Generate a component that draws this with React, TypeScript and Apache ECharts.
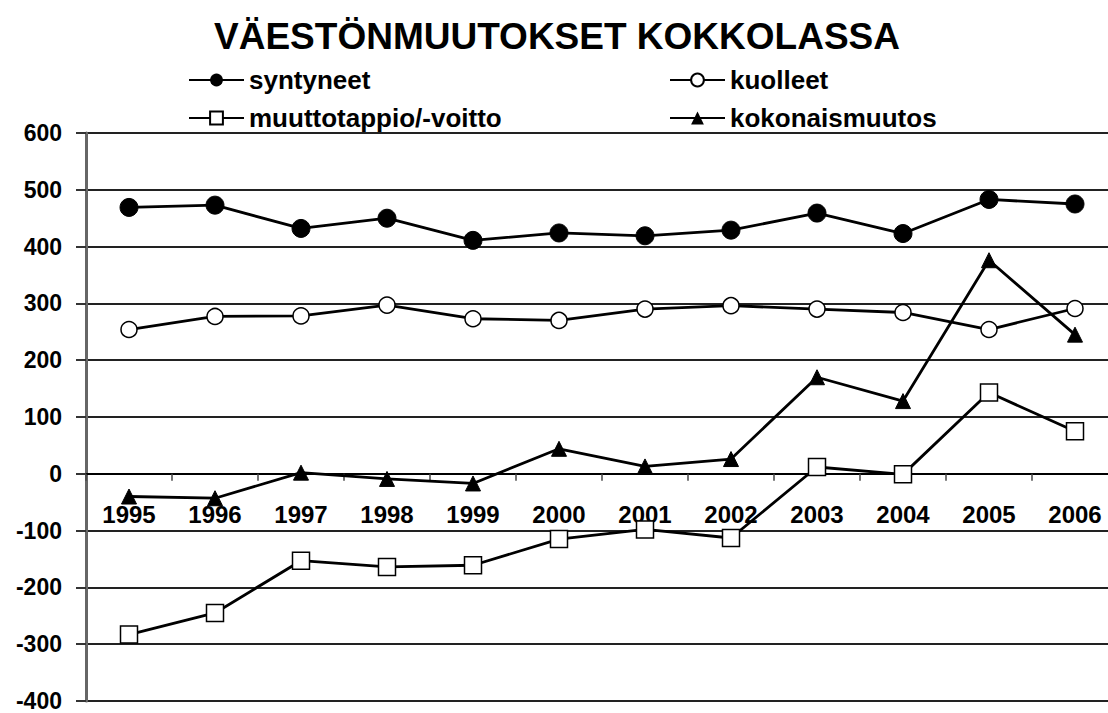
import React, { useEffect, useRef } from "react";
import * as echarts from "echarts";

const years = ["1995", "1996", "1997", "1998", "1999", "2000", "2001", "2002", "2003", "2004", "2005", "2006"];
const syntyneet = [469, 473, 432, 450, 411, 424, 419, 429, 459, 423, 483, 475];
const kuolleet = [254, 277, 278, 297, 273, 270, 290, 296, 290, 284, 254, 291];
const muuttotappio = [-283, -245, -153, -164, -161, -115, -98, -113, 12, -1, 143, 75];
const kokonaismuutos = [-40, -43, 2, -9, -17, 44, 13, 26, 170, 128, 376, 245];
const yTicks = { min: -400, max: 600, interval: 100 };

const FONT = "'Liberation Sans', Arial, sans-serif";
const GRID_TOP = 133;
const GRID_HEIGHT = 568;
const GRID_LEFT = 86;
const GRID_WIDTH = 1032;

export default function App() {
  const ref = useRef<HTMLDivElement>(null);
  useEffect(() => {
    document.body.style.margin = "0";
    const chart = echarts.init(ref.current!, null, { renderer: "svg" });
    const lineStyle = { color: "#000", width: 2.8 };
    const legendText = { fontFamily: FONT, fontWeight: "bold" as const, fontSize: 26, lineHeight: 26, color: "#000" };
    // offset of the category axis so that it sits on the value 0
    const zeroOffset = -GRID_HEIGHT * (0 - yTicks.min) / (yTicks.max - yTicks.min);
    chart.setOption({
      animation: false,
      backgroundColor: "#fff",
      title: {
        text: "VÄESTÖNMUUTOKSET KOKKOLASSA",
        left: 552,
        textAlign: "center",
        top: 13,
        textStyle: { fontFamily: FONT, fontWeight: "bold", fontSize: 37, color: "#000" },
      },
      legend: [
        {
          orient: "vertical",
          left: 183,
          top: 62,
          itemWidth: 55,
          itemHeight: 16,
          itemGap: 12,
          textStyle: legendText,
          data: ["syntyneet", "muuttotappio/-voitto"],
        },
        {
          orient: "vertical",
          left: 664,
          top: 62,
          itemWidth: 55,
          itemHeight: 16,
          itemGap: 12,
          textStyle: legendText,
          data: ["kuolleet", "kokonaismuutos"],
        },
      ],
      grid: {
        left: GRID_LEFT,
        top: GRID_TOP,
        width: GRID_WIDTH,
        height: GRID_HEIGHT,
        containLabel: false,
        outerBoundsMode: "none",
      },
      xAxis: {
        type: "category",
        data: years,
        boundaryGap: true,
        position: "bottom",
        offset: zeroOffset,
        axisLine: { onZero: false, lineStyle: { color: "#000", width: 2 } },
        axisTick: { show: true, length: 7, inside: false, lineStyle: { color: "#444", width: 1.5 } },
        axisLabel: { margin: 29, fontFamily: FONT, fontWeight: "bold", fontSize: 24, color: "#000" },
        splitLine: { show: false },
      },
      yAxis: {
        type: "value",
        min: yTicks.min,
        max: yTicks.max,
        interval: yTicks.interval,
        axisLine: { show: true, lineStyle: { color: "#666", width: 3 } },
        axisTick: { show: true, length: 10, lineStyle: { color: "#333", width: 2 } },
        axisLabel: { margin: 24, fontFamily: FONT, fontWeight: "bold", fontSize: 23, color: "#000" },
        splitLine: { show: true, lineStyle: { color: "#222", width: 2 } },
      },
      series: [
        {
          name: "syntyneet",
          type: "line",
          data: syntyneet,
          symbol: "circle",
          symbolSize: 18,
          lineStyle,
          itemStyle: { color: "#000", borderColor: "#000" },
          z: 5,
        },
        {
          name: "kuolleet",
          type: "line",
          data: kuolleet,
          symbol: "circle",
          symbolSize: 16,
          lineStyle,
          itemStyle: { color: "#fff", borderColor: "#000", borderWidth: 1.5 },
          z: 5,
        },
        {
          name: "muuttotappio/-voitto",
          type: "line",
          data: muuttotappio,
          symbol: "rect",
          symbolSize: 17,
          lineStyle,
          itemStyle: { color: "#fff", borderColor: "#000", borderWidth: 1.5 },
          z: 5,
        },
        {
          name: "kokonaismuutos",
          type: "line",
          data: kokonaismuutos,
          symbol: "triangle",
          symbolSize: 15,
          lineStyle,
          itemStyle: { color: "#000", borderColor: "#000" },
          z: 5,
        },
      ],
    });
    return () => chart.dispose();
  }, []);
  return <div ref={ref} style={{ width: 1108, height: 713 }} />;
}
